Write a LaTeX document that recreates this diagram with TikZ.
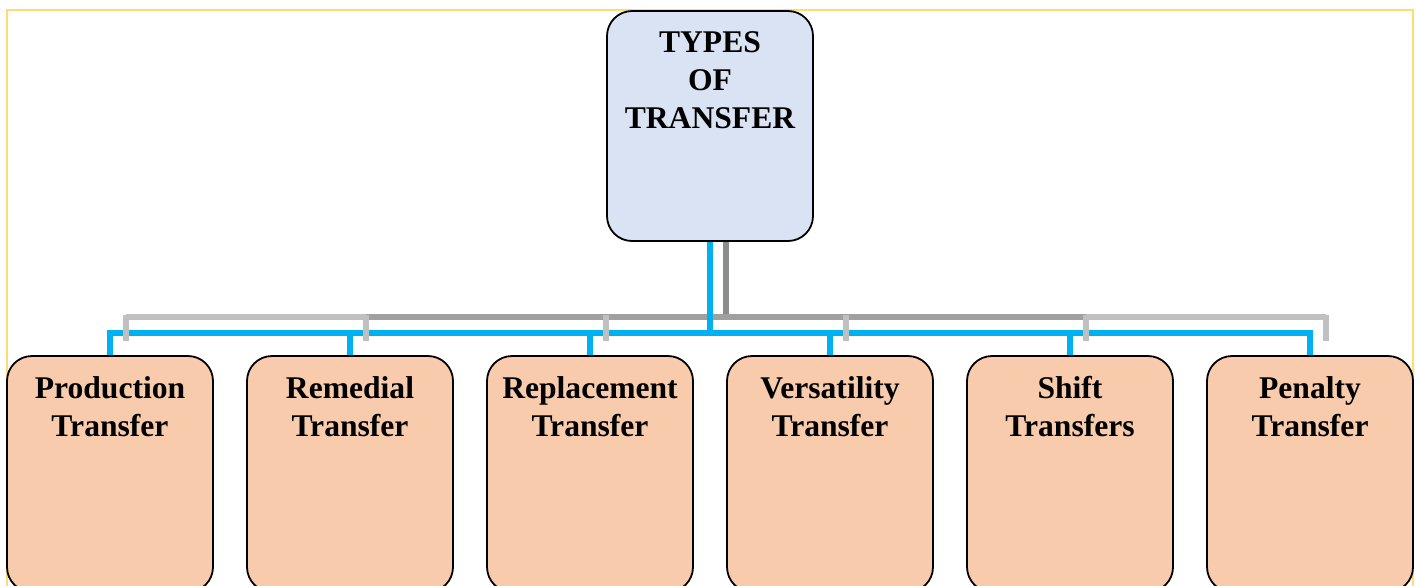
\documentclass[tikz,border=0pt]{standalone}
\usepackage{fontspec}
\setmainfont{Liberation Serif}
\usetikzlibrary{backgrounds}
\definecolor{framegold}{RGB}{255,220,115}
\definecolor{linkblue}{RGB}{0,176,240}
\definecolor{shadowdark}{RGB}{140,140,140}
\definecolor{shadowmid}{RGB}{160,160,160}
\definecolor{shadowlight}{RGB}{192,192,192}
\definecolor{headfill}{RGB}{218,227,243}
\definecolor{leaffill}{RGB}{247,203,172}
\tikzset{
  card/.style={draw=black, line width=0.9pt, rounded corners=12.5pt,
    minimum width=103pt, inner sep=0pt},
  headcard/.style={card, fill=headfill, minimum height=115pt},
  leafcard/.style={card, fill=leaffill, minimum height=118pt},
  caption/.style={anchor=north, align=center, inner sep=0pt,
    font=\fontsize{15.8}{19}\selectfont\bfseries},
  bluelink/.style={draw=linkblue, line width=3pt},
  shade/.style={line width=3pt},
}
% fixed first-line height so every caption starts on the same baseline
\newcommand{\capstrut}{\rule{0pt}{13pt}}
\begin{document}
\begin{tikzpicture}[x=0.5pt, y=-0.5pt]
  \useasboundingbox (0,0) rectangle (1416,585);
  \clip (0,0) rectangle (1416,585);

  % page frame
  \draw[framegold, line width=1.1pt] (7,650) -- (7,10) -- (1413,10) -- (1413,650);

  % root card
  \node[headcard] (top) at (710,126) {};
  \node[caption] (toplbl) at (710,26) {\capstrut TYPES\\OF\\TRANSFER};

  % leaf cards
  \foreach \i/\txt [evaluate=\i as \cx using 110+240*(\i-1)] in
      {1/{Production\\Transfer}, 2/{Remedial\\Transfer}, 3/{Replacement\\Transfer},
       4/{Versatility\\Transfer}, 5/{Shift\\Transfers}, 6/{Penalty\\Transfer}} {
    \node[leafcard] (b\i) at (\cx,474) {};
    \node[caption] (l\i) at (\cx,372) {\capstrut\txt};
    \coordinate (t\i) at (\cx+16,341);
  }

  \coordinate (bus) at (710,333);
  \coordinate (sbus) at (726,316.5);

  \begin{scope}[on background layer]
    % grey shadow of the connector tree
    \draw[shade, shadowdark] ([xshift=8pt]top.south) -- (sbus);
    \draw[shade, shadowlight] (t1 |- sbus) -- (t6 |- sbus);
    \draw[shade, shadowmid] (t2 |- sbus) -- (t5 |- sbus);
    % blue connector tree
    \draw[bluelink] (top.south) -- (bus);
    \draw[bluelink] (b1.north) |- (bus) -| (b6.north);
    \foreach \i in {2,3,4,5} {
      \draw[bluelink] (b\i.north) -- (b\i.north |- bus);
    }
    % grey shadow drop ticks
    \foreach \i in {1,...,6} {
      \draw[shade, shadowlight] ([yshift=0.75pt]t\i |- sbus) -- (t\i);
    }
  \end{scope}
\end{tikzpicture}
\end{document}
